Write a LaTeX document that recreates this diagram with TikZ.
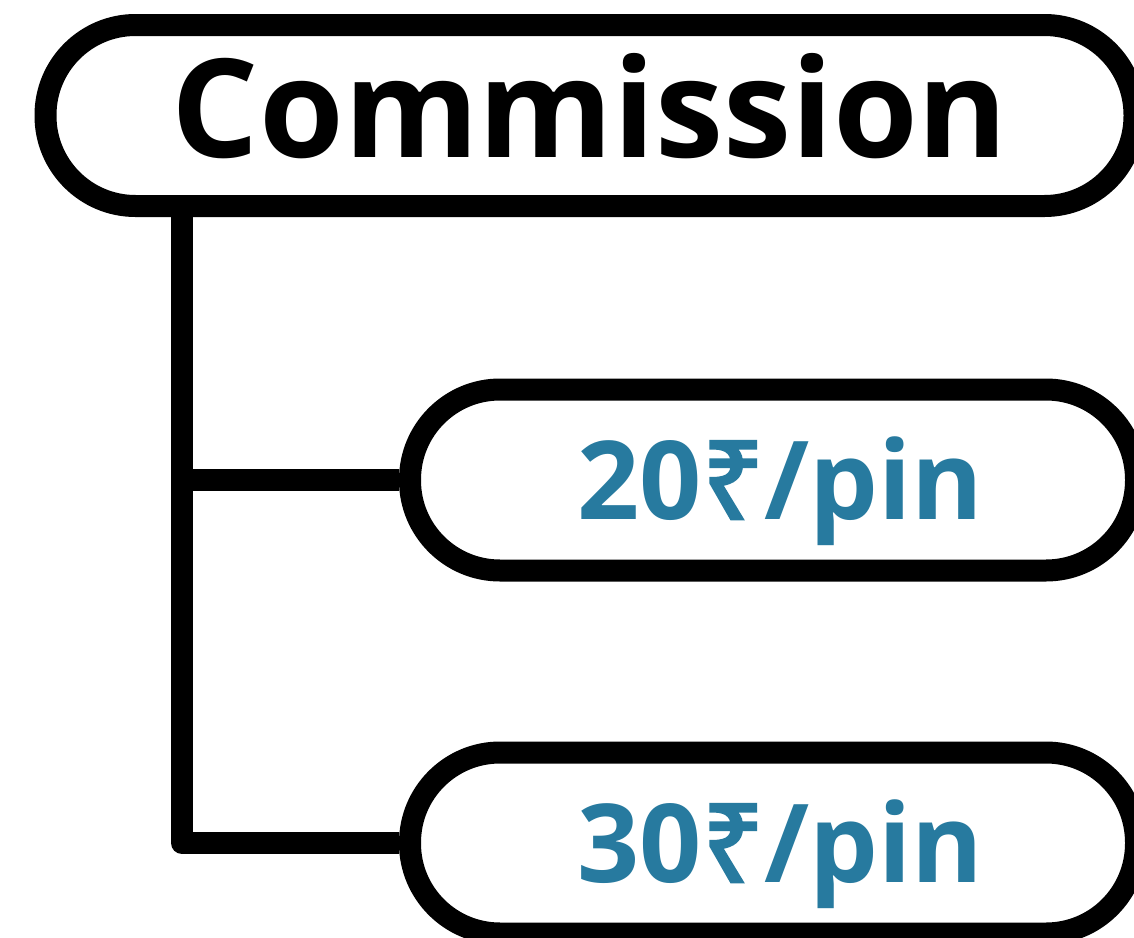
\documentclass[tikz,border=0pt]{standalone}
\usepackage{fontspec}
\setmainfont{Open Sans}
\newfontfamily\rupeefont{Noto Sans}[AutoFakeBold=2.5]
\definecolor{rate}{RGB}{39,122,159}

\begin{document}
\begin{tikzpicture}
[
	pill/.style={rectangle,draw,fill=white,line width=0.44cm,rounded corners=1.8cm,minimum height=3.62cm},
	link/.style={line width=0.44cm,line join=round},
	price/.style={pill,minimum width=14.52cm,text height=1.56cm,text depth=0cm,text=rate,font=\fontsize{62}{74}\selectfont\bfseries}
]

\useasboundingbox (0,0) rectangle (22.68,-18.76);

\coordinate (bend) at (3.64,0);

\node[pill,minimum width=21.78cm,text height=1.66cm,text depth=0cm,font=\fontsize{78}{94}\selectfont\bfseries] (comm) at (11.8,-2.31) {Commission};

\node[price] (p20) at (15.46,-9.6) {\hspace*{0.3cm}20{\rupeefont ₹}/pin};
\node[price] (p30) at (15.46,-16.86) {\hspace*{0.3cm}30{\rupeefont ₹}/pin};

\draw[link] (comm.south -| bend) -- (bend |- p30) -- (p30.west);
\draw[link] (bend |- p20) -- (p20.west);

\end{tikzpicture}
\end{document}
